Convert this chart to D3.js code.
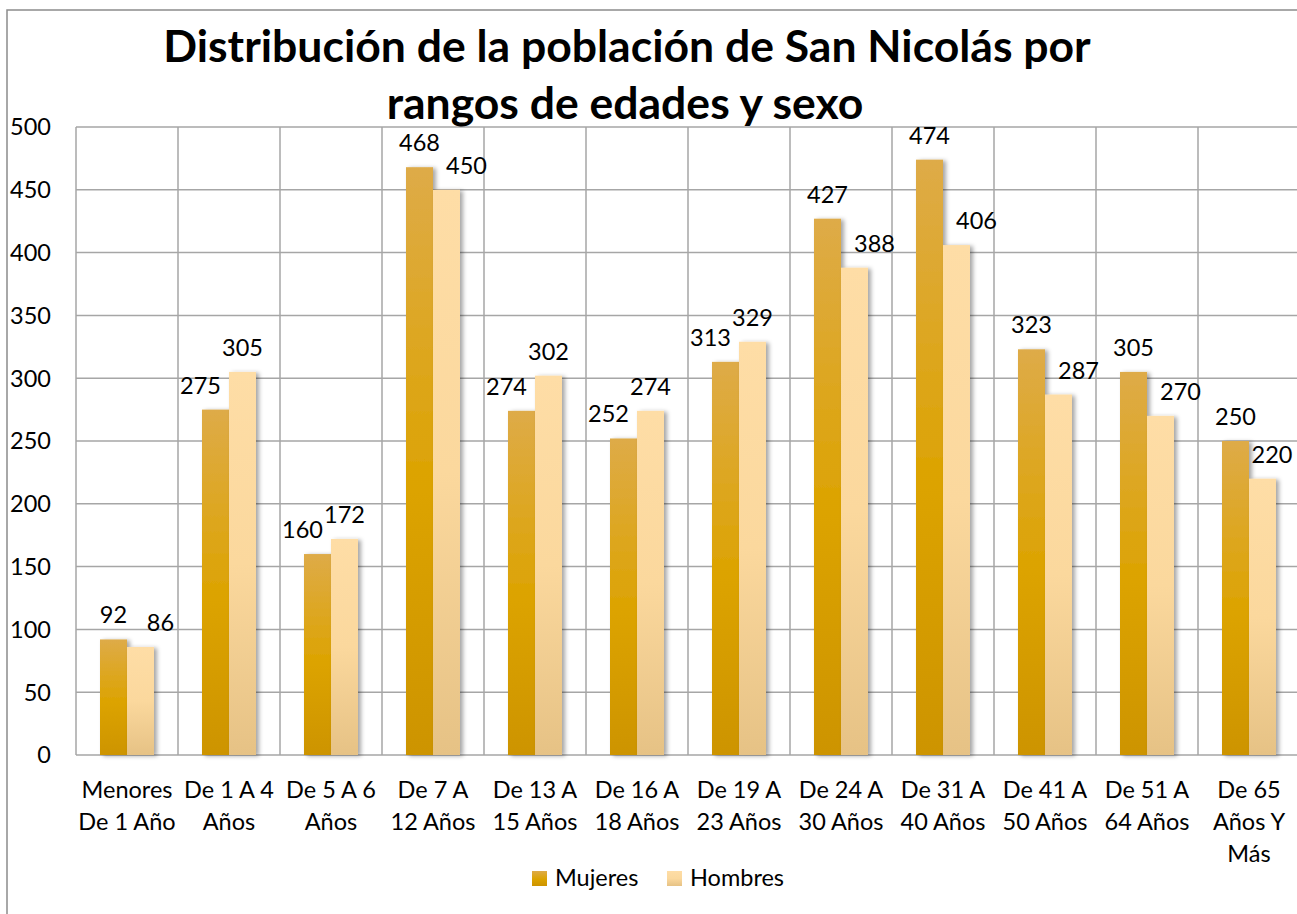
<!DOCTYPE html>
<meta charset="utf-8">
<style>
body { margin: 0; background: #fff; }
text { font-family: Lato, "Open Sans", sans-serif; fill: #000; }
</style>
<body>
<script src="https://d3js.org/d3.v7.min.js"></script>
<script>

var width = 1297,
    height = 914;

// data
var categories = ["Menores De 1 Año", "De 1 A 4 Años", "De 5 A 6 Años", "De 7 A 12 Años",
  "De 13 A 15 Años", "De 16 A 18 Años", "De 19 A 23 Años", "De 24 A 30 Años",
  "De 31 A 40 Años", "De 41 A 50 Años", "De 51 A 64 Años", "De 65 Años Y Más"];
var catLines = [["Menores", "De 1 Año"], ["De 1 A 4", "Años"], ["De 5 A 6", "Años"], ["De 7 A", "12 Años"],
  ["De 13 A", "15 Años"], ["De 16 A", "18 Años"], ["De 19 A", "23 Años"], ["De 24 A", "30 Años"],
  ["De 31 A", "40 Años"], ["De 41 A", "50 Años"], ["De 51 A", "64 Años"], ["De 65", "Años Y", "Más"]];
var series = ["Mujeres", "Hombres"];
var mujeres = [92, 275, 160, 468, 274, 252, 313, 427, 474, 323, 305, 250];
var hombres = [86, 305, 172, 450, 302, 274, 329, 388, 406, 287, 270, 220];
var yTicks = [0, 50, 100, 150, 200, 250, 300, 350, 400, 450, 500];

var margin = {left: 76, top: 127, bottom: 755, right: 1300};
var fs = 23.5;

var svg = d3.select("body").append("svg")
    .attr("width", width)
    .attr("height", height);

var defs = svg.append("defs");

var gradM = defs.append("linearGradient").attr("id", "gM").attr("x1", 0).attr("y1", 0).attr("x2", 0).attr("y2", 1);
gradM.append("stop").attr("offset", "0%").attr("stop-color", "#DEAB48");
gradM.append("stop").attr("offset", "55%").attr("stop-color", "#DCA300");
gradM.append("stop").attr("offset", "100%").attr("stop-color", "#CD9400");

var gradH = defs.append("linearGradient").attr("id", "gH").attr("x1", 0).attr("y1", 0).attr("x2", 0).attr("y2", 1);
gradH.append("stop").attr("offset", "0%").attr("stop-color", "#FEDDA6");
gradH.append("stop").attr("offset", "50%").attr("stop-color", "#FBD89D");
gradH.append("stop").attr("offset", "100%").attr("stop-color", "#E6C285");

var shadow = defs.append("filter").attr("id", "shadow")
    .attr("x", "-20%").attr("y", "-5%").attr("width", "160%").attr("height", "115%");
shadow.append("feDropShadow").attr("dx", 3).attr("dy", 1).attr("stdDeviation", 2)
    .attr("flood-color", "#000").attr("flood-opacity", 0.35);

// chart border
svg.append("rect")
    .attr("x", 7).attr("y", 10)
    .attr("width", 1400).attr("height", 910)
    .attr("fill", "none").attr("stroke", "#8c8c8c").attr("stroke-width", 1.5);

var x = d3.scaleBand()
    .domain(categories)
    .range([margin.left, margin.right]);

var x1 = d3.scaleBand()
    .domain(series)
    .range([0, x.bandwidth()])
    .paddingOuter(0.889);

var y = d3.scaleLinear()
    .domain([0, 500])
    .range([margin.bottom, margin.top]);

var color = {Mujeres: "url(#gM)", Hombres: "url(#gH)"};

// grid
var grid = svg.append("g").attr("stroke", "#a6a6a6").attr("stroke-width", 1.5);
grid.selectAll("line.h").data(yTicks).enter().append("line")
    .attr("x1", margin.left).attr("x2", margin.right)
    .attr("y1", function(d) { return y(d); }).attr("y2", function(d) { return y(d); });
grid.selectAll("line.v").data(categories).enter().append("line")
    .attr("x1", function(d) { return x(d); }).attr("x2", function(d) { return x(d); })
    .attr("y1", margin.top).attr("y2", margin.bottom);

// y axis labels
svg.append("g").selectAll("text").data(yTicks).enter().append("text")
    .attr("x", 51)
    .attr("y", function(d) { return y(d); })
    .attr("dy", "0.36em")
    .attr("text-anchor", "end")
    .attr("font-size", fs)
    .text(function(d) { return d; });

// bars
var rows = categories.map(function(c, i) {
  return {cat: c, Mujeres: mujeres[i], Hombres: hombres[i]};
});

var groups = svg.append("g").selectAll("g").data(rows).enter().append("g")
    .attr("transform", function(d) { return "translate(" + x(d.cat) + ",0)"; });

groups.selectAll("rect")
    .data(function(d) { return series.map(function(s) { return {key: s, value: d[s], row: d}; }); })
    .enter().append("rect")
    .attr("x", function(d) { return x1(d.key); })
    .attr("width", x1.bandwidth())
    .attr("y", function(d) { return y(d.value); })
    .attr("height", function(d) { return y(0) - y(d.value); })
    .attr("fill", function(d) { return color[d.key]; })
    .attr("filter", "url(#shadow)");

// value labels: the shorter bar's label moves aside
groups.selectAll("text")
    .data(function(d) { return series.map(function(s) { return {key: s, value: d[s], row: d}; }); })
    .enter().append("text")
    .attr("x", function(d) {
      var other = d.key === "Mujeres" ? d.row.Hombres : d.row.Mujeres;
      var shift = 0;
      if (d.value < other) shift = d.key === "Mujeres" ? -15 : 20;
      var cx = x1(d.key) + x1.bandwidth() / 2 + shift;
      return Math.min(cx, width - 25 - x(d.row.cat));
    })
    .attr("y", function(d) { return y(d.value) - 16; })
    .attr("text-anchor", "middle")
    .attr("font-size", fs)
    .text(function(d) { return d.value; });

// category labels
var xl = svg.append("g").selectAll("text").data(categories).enter().append("text")
    .attr("text-anchor", "middle")
    .attr("font-size", fs)
    .attr("x", function(d) { return x(d) + x.bandwidth() / 2; })
    .attr("y", 798);
xl.selectAll("tspan")
    .data(function(d, i) { return catLines[i]; })
    .enter().append("tspan")
    .attr("x", function() { var p = this.parentNode; return p.getAttribute("x"); })
    .attr("dy", function(d, i) { return i === 0 ? 0 : 32; })
    .text(function(d) { return d; });

// title
svg.append("text")
    .attr("x", 627).attr("y", 62)
    .attr("text-anchor", "middle")
    .attr("font-size", 44.5).attr("font-weight", "bold")
    .text("Distribución de la población de San Nicolás por");
svg.append("text")
    .attr("x", 625).attr("y", 119)
    .attr("text-anchor", "middle")
    .attr("font-size", 44.5).attr("font-weight", "bold")
    .text("rangos de edades y sexo");

// legend
var legend = svg.append("g").selectAll("g").data(series).enter().append("g")
    .attr("transform", function(d, i) { return "translate(" + (532 + i * 135) + ",871)"; });
legend.append("rect")
    .attr("width", 15).attr("height", 15)
    .attr("fill", function(d) { return color[d]; });
legend.append("text")
    .attr("x", 23).attr("y", 15)
    .attr("font-size", fs)
    .text(function(d) { return d; });

</script>
